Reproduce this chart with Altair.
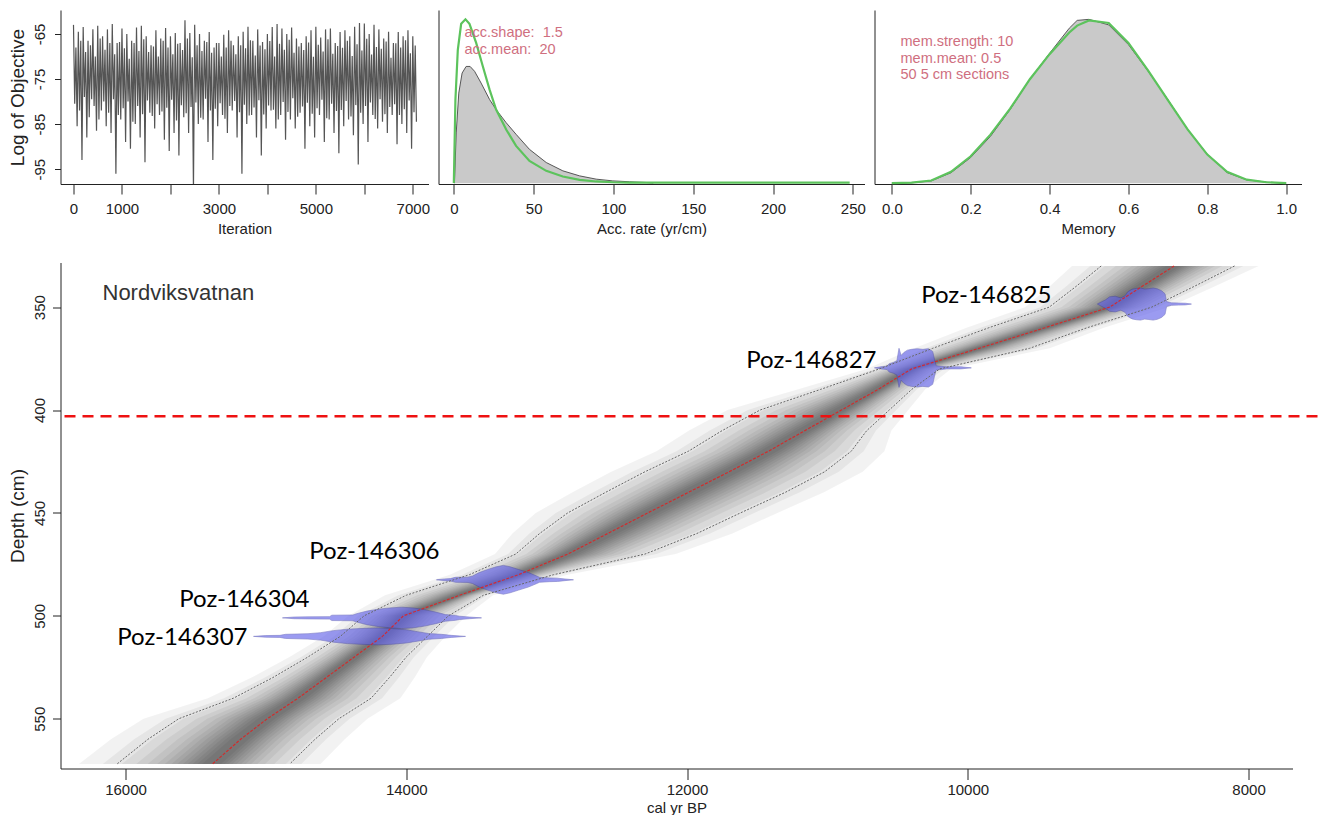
import altair as alt
import pandas as pd

FONT = "Liberation Sans"
INK = "#222222"

# ---------------- panel 1: MCMC trace ----------------
# extreme excursions (every 100 iterations) and the smaller wiggles in between
trace_peaks = [-63.0, -64.5, -63.5, -66.5, -64.0, -63.2, -65.5, -64.0, -62.8, -67.0,
               -63.8, -65.0, -66.5, -63.6, -63.2, -65.5, -67.5, -64.2, -66.0, -63.7,
               -65.5, -64.8, -67.0, -62.0, -64.8, -63.0, -65.0, -66.5, -64.6, -68.0,
               -67.0, -65.2, -64.2, -67.5, -65.5, -64.5, -63.4, -66.5, -64.0, -66.8,
               -65.0, -63.5, -62.8, -63.8, -65.0, -63.6, -66.0, -67.0, -65.5, -64.2,
               -63.4, -65.8, -64.0, -63.8, -67.0, -64.6, -64.2, -65.5, -63.4, -62.6,
               -62.7, -65.0, -63.0, -64.0, -66.0, -64.5, -67.0, -64.6, -65.5, -64.2,
               -65.5]
trace_troughs = [-85.5, -93.0, -88.0, -79.5, -86.5, -82.0, -85.5, -87.0, -96.0, -84.0,
                 -89.0, -90.5, -85.0, -88.0, -93.5, -82.5, -86.0, -83.0, -88.5, -91.0,
                 -87.0, -92.0, -83.5, -87.0, -99.5, -85.0, -84.0, -89.0, -93.0, -85.5,
                 -83.0, -87.0, -82.0, -88.0, -96.0, -85.0, -83.0, -88.0, -92.0, -86.0,
                 -82.0, -86.0, -83.0, -88.5, -84.0, -86.0, -82.5, -90.5, -85.5, -88.0,
                 -83.0, -89.0, -84.0, -87.0, -91.5, -85.5, -84.0, -87.5, -94.0, -85.0,
                 -89.0, -83.0, -86.0, -84.5, -87.0, -83.0, -89.5, -85.0, -87.0, -90.5,
                 -84.5]
trace_inner_peaks = [-68.0, -66.5, -69.0, -67.5, -70.0, -66.0, -68.5, -67.0, -69.5, -66.8,
                     -68.2, -70.5, -67.0, -68.8, -66.2, -69.0, -67.8, -70.0, -66.5, -68.0,
                     -69.5, -67.2, -68.6, -66.0, -70.2, -67.5, -68.8, -66.8, -69.2, -67.0,
                     -70.0, -68.0, -66.5, -69.5, -67.5, -68.2, -66.4, -69.8, -67.6, -68.4,
                     -66.6, -70.0, -67.2, -68.5, -66.3, -69.2, -67.8, -68.6, -66.9, -70.1,
                     -67.4, -68.9, -66.2, -69.4, -67.7, -68.1, -66.5, -69.9, -67.3, -68.7,
                     -66.1, -69.6, -67.9, -68.3, -66.7, -70.3, -67.1, -68.0, -66.4, -69.3,
                     -67.6]
trace_inner_troughs = [-80.5, -82.0, -79.0, -83.5, -81.0, -84.0, -80.0, -82.5, -79.5, -83.0,
                       -81.5, -80.0, -84.5, -81.0, -82.8, -79.8, -83.2, -80.6, -82.2, -81.4,
                       -79.6, -84.2, -80.8, -82.6, -81.2, -80.2, -83.6, -79.4, -82.0, -81.6,
                       -80.4, -83.8, -81.0, -79.9, -82.4, -80.7, -83.1, -81.3, -79.7, -82.9,
                       -80.9, -81.8, -84.0, -80.1, -82.3, -79.3, -83.4, -81.1, -80.3, -82.7,
                       -81.5, -79.6, -83.7, -80.5, -82.1, -81.9, -79.9, -83.3, -80.8, -82.5,
                       -81.0, -80.2, -83.9, -79.5, -82.8, -81.2, -80.6, -83.0, -81.7, -79.8,
                       -82.4]
trace_block = 100  # iterations per (peak, inner trough, inner peak, trough) block

# ---------------- panel 2: accumulation rate ----------------
acc_post_x = [0.4, 1.5, 3.1, 5.2, 7.7, 10.2, 13, 17.1, 22.4, 26.5, 32.8, 39, 47.4,
              57.9, 68.3, 78.8, 89.2, 99.6, 110, 120, 125]
acc_post_y = [0, 0.29, 0.52, 0.636, 0.674, 0.674, 0.646, 0.578, 0.483, 0.425, 0.349,
              0.282, 0.195, 0.119, 0.071, 0.042, 0.023, 0.013, 0.008, 0.004, 0.0]
acc_prior_x = [0, 1.0, 2.5, 4.6, 7.3, 9.8, 14, 18.2, 22.4, 26.5, 32.8, 39, 47.4, 57.9,
               68.3, 78.8, 89.2, 99.6, 110, 150, 200, 248]
acc_prior_y = [0, 0.48, 0.77, 0.92, 0.946, 0.92, 0.81, 0.674, 0.54, 0.425, 0.31, 0.215,
               0.128, 0.071, 0.038, 0.019, 0.0096, 0.005, 0.003, 0.003, 0.003, 0.003]
acc_notes = ["acc.shape:\u00a0 1.5", "acc.mean:\u00a0 20"]

# ---------------- panel 3: memory ----------------
mem_x = [0, 0.05, 0.1, 0.15, 0.2, 0.25, 0.3, 0.35, 0.4, 0.45, 0.47, 0.5, 0.55, 0.6,
         0.65, 0.7, 0.75, 0.8, 0.85, 0.9, 0.95, 1.0]
mem_post_y = [0, 0.002, 0.013, 0.06, 0.148, 0.27, 0.425, 0.6, 0.75, 0.895, 0.94, 0.946,
              0.914, 0.8, 0.646, 0.483, 0.31, 0.167, 0.061, 0.019, 0.006, 0]
mem_prior_y = [0, 0.003, 0.015, 0.065, 0.155, 0.28, 0.43, 0.6, 0.745, 0.87, 0.91, 0.94,
               0.925, 0.81, 0.65, 0.48, 0.31, 0.165, 0.065, 0.02, 0.005, 0]
mem_notes = ["mem.strength: 10", "mem.mean: 0.5", "50 5 cm sections"]

# ---------------- main: age-depth model ----------------
site_name = "Nordviksvatnan"
depth_nodes = [330, 340, 350, 360, 370, 380, 390, 400, 410, 420, 430, 440, 450, 460,
               470, 480, 490, 500, 510, 520, 530, 540, 550, 560, 572]
age_mid = [8530, 8760, 8990, 9450, 9920, 10400, 10640, 10900, 11160, 11420, 11700,
           11990, 12280, 12565, 12850, 13200, 13620, 14020, 14170, 14370, 14570, 14770,
           14990, 15180, 15380]
age_old = [9050, 9230, 9420, 9850, 10250, 10630, 11050, 11480, 11750, 11990, 12300,
           12580, 12850, 13050, 13220, 13550, 14000, 14300, 14470, 14700, 14950, 15230,
           15620, 15840, 16060]
age_young = [8100, 8390, 8690, 9150, 9560, 10200, 10400, 10560, 10720, 10830, 11020,
             11300, 11620, 11930, 12300, 12950, 13450, 13700, 13850, 14000, 14120,
             14250, 14480, 14650, 14830]
boundary_depth = 403

date_labels = ["Poz-146825", "Poz-146827", "Poz-146306", "Poz-146304", "Poz-146307"]
date_depths = [348.5, 379.5, 482.5, 501.0, 510.0]
date_ages = [
    [9077, 9050, 9020, 8990, 8950, 8910, 8880, 8860, 8830, 8800, 8770, 8740, 8710, 8680,
     8650, 8620, 8595, 8584, 8550, 8500, 8450, 8407],
    [10665, 10620, 10575, 10560, 10530, 10505, 10490, 10475, 10455, 10430, 10400, 10360,
     10320, 10280, 10250, 10237, 10225, 10150, 10050, 9975],
    [13785, 13730, 13685, 13650, 13560, 13528, 13480, 13420, 13360, 13308, 13260, 13200,
     13130, 13070, 13051, 12980, 12923, 12870, 12809],
    [14882, 14800, 14700, 14547, 14530, 14380, 14355, 14280, 14200, 14120, 14034, 13950,
     13870, 13790, 13721, 13650, 13621, 13550, 13464],
    [15088, 15000, 14900, 14860, 14700, 14611, 14520, 14420, 14300, 14198, 14100, 14000,
     13920, 13842, 13749, 13680, 13578],
]
date_halfheights = [
    [0, 1.0, 2.0, 3.5, 3.8, 3.0, 4.0, 6.0, 7.2, 7.6, 7.8, 7.3, 7.5, 7.8, 7.4, 6.5, 5.0,
     1.2, 0.6, 0.5, 0.4, 0],
    [0, 0.5, 0.8, 2.0, 2.6, 3.5, 9.5, 6.0, 7.5, 8.6, 9.0, 9.3, 9.0, 9.3, 8.0, 4.0, 1.0,
     0.5, 0.5, 0],
    [0, 0.4, 0.6, 1.2, 1.3, 1.8, 3.5, 5.0, 6.3, 7.0, 6.3, 5.0, 3.5, 1.8, 1.2, 0.9, 0.8,
     0.4, 0],
    [0, 0.4, 0.5, 0.6, 1.3, 1.4, 2.0, 3.3, 4.2, 4.8, 5.2, 4.8, 4.0, 2.8, 1.6, 1.2, 0.8,
     0.4, 0],
    [0, 0.4, 0.5, 1.0, 1.3, 1.8, 2.8, 3.5, 3.9, 4.1, 3.8, 3.2, 2.3, 1.4, 1.0, 0.5, 0],
]
label_ages = [9404, 10650, 13763, 14689, 15131]
label_depths = [344.8, 376.4, 469.2, 492.1, 511.0]

# ======================================================================
q = trace_block / 4
trace_rows = []
for i in range(len(trace_peaks)):
    b = i * trace_block
    trace_rows += [(b, trace_peaks[i]), (b + q, trace_inner_troughs[i]),
                   (b + 2 * q, trace_inner_peaks[i]), (b + 3 * q, trace_troughs[i])]
trace_df = pd.DataFrame(trace_rows, columns=["it", "val"])

common_axis = dict(labelFontSize=15, titleFontSize=15, labelColor=INK, titleColor=INK,
                   domainColor=INK, tickColor=INK, grid=False, labelFlush=False,
                   labelOverlap=False, titleFontWeight="normal", domainWidth=1,
                   tickWidth=1)
YTITLE_X = -43
YTITLE_SIZE = 19


def top_xaxis(title, values, fmt, expr=None):
    kw = dict(common_axis)
    kw.update(title=title, values=values, format=fmt, tickSize=10, labelPadding=7,
              labelBaseline="top", titleY=44, titleBaseline="middle")
    if expr:
        kw["labelExpr"] = expr
    return alt.Axis(**kw)


blank_y = alt.Axis(title=None, labels=False, ticks=False, domain=True, grid=False,
                   domainColor=INK)

p1_axis_y = dict(common_axis)
p1_axis_y.update(title="Log of Objective", values=[-95, -85, -75, -65],
                 labelExpr="'' + datum.value", tickSize=6, labelPadding=7,
                 labelAngle=270, labelAlign="center", labelBaseline="bottom",
                 titleAngle=270, titleX=YTITLE_X, titleY=87, titleAlign="center",
                 titleBaseline="middle", titleFontSize=YTITLE_SIZE)

p1 = alt.Chart(trace_df).mark_line(color="#555555", strokeWidth=1.2, clip=True).encode(
    x=alt.X("it:Q", scale=alt.Scale(domain=[-268, 7324], nice=False, zero=False),
            axis=top_xaxis("Iteration", list(range(0, 8000, 1000)), "d",
                           "datum.value == 2000 || datum.value == 4000 || datum.value == 6000 ? '' : datum.label")),
    y=alt.Y("val:Q", scale=alt.Scale(domain=[-98.3, -59.7], nice=False, zero=False),
            axis=alt.Axis(**p1_axis_y)),
).properties(width=368, height=174)

acc_post = pd.DataFrame({"x": acc_post_x, "y": acc_post_y})
acc_prior = pd.DataFrame({"x": acc_prior_x, "y": acc_prior_y})
ax2 = alt.X("x:Q", scale=alt.Scale(domain=[-9.6, 257.3], nice=False, zero=False),
            axis=top_xaxis("Acc. rate (yr/cm)", [0, 50, 100, 150, 200, 250], "d"))
ay2 = alt.Y("y:Q", scale=alt.Scale(domain=[-0.005, 1], nice=False, zero=False), axis=blank_y)
p2 = alt.layer(
    alt.Chart(acc_post).mark_area(color="#c9c9c9").encode(x=ax2, y=ay2),
    alt.Chart(acc_post).mark_line(color="#474747", strokeWidth=0.9).encode(x=ax2, y=ay2),
    alt.Chart(acc_prior).mark_line(color="#5cc35c", strokeWidth=2.2).encode(x=ax2, y=ay2),
    alt.Chart(pd.DataFrame({"t": ["\n".join(acc_notes)]})).mark_text(
        align="left", baseline="top", fontSize=14.5, color="#cf6f7f", lineBreak="\n",
        lineHeight=17).encode(x=alt.value(26), y=alt.value(16), text="t:N"),
).properties(width=426, height=174)

mem_df = pd.DataFrame({"x": mem_x, "post": mem_post_y, "prior": mem_prior_y})
ax3 = alt.X("x:Q", scale=alt.Scale(domain=[-0.0439, 1.0388], nice=False, zero=False),
            axis=top_xaxis("Memory", [0, 0.2, 0.4, 0.6, 0.8, 1.0], ".1f"))
sc3 = alt.Scale(domain=[-0.005, 1], nice=False, zero=False)
p3 = alt.layer(
    alt.Chart(mem_df).mark_area(color="#c9c9c9").encode(x=ax3, y=alt.Y("post:Q", scale=sc3, axis=blank_y)),
    alt.Chart(mem_df).mark_line(color="#474747", strokeWidth=0.9).encode(x=ax3, y=alt.Y("post:Q", scale=sc3, axis=blank_y)),
    alt.Chart(mem_df).mark_line(color="#5cc35c", strokeWidth=2.2).encode(x=ax3, y=alt.Y("prior:Q", scale=sc3, axis=blank_y)),
    alt.Chart(pd.DataFrame({"t": ["\n".join(mem_notes)]})).mark_text(
        align="left", baseline="top", fontSize=14.5, color="#cf6f7f", lineBreak="\n",
        lineHeight=16.5).encode(x=alt.value(26), y=alt.value(25), text="t:N"),
).properties(width=427, height=174)

top_row = alt.hconcat(p1, p2, p3, spacing=10, bounds="flush")

# ---------------- main panel ----------------
xs = alt.Scale(domain=[7687, 16463], reverse=True, nice=False, zero=False)
ys = alt.Scale(domain=[328.3, 574.2], reverse=True, nice=False, zero=False)
main_xaxis = alt.Axis(**common_axis, title="cal yr BP", values=[16000, 14000, 12000, 10000, 8000],
                      format="d", tickSize=11, labelPadding=3, labelBaseline="top",
                      titleY=38.5, titleBaseline="middle")
main_y_kw = dict(common_axis)
main_y_kw.update(title="Depth (cm)", values=[350, 400, 450, 500, 550],
                 tickSize=8, labelPadding=5, labelAngle=270, labelAlign="center",
                 labelBaseline="bottom", titleAngle=270, titleX=YTITLE_X, titleY=253,
                 titleAlign="center", titleBaseline="middle", titleFontSize=YTITLE_SIZE)
main_yaxis = alt.Axis(**main_y_kw)


def MX(f):
    return alt.X(f, type="quantitative", scale=xs, axis=main_xaxis)


def MY(f):
    return alt.Y(f, type="quantitative", scale=ys, axis=main_yaxis)


band = pd.DataFrame({"depth": depth_nodes, "mid": age_mid, "old": age_old, "young": age_young})
layers = []
# nested translucent layers give the grey probability shading of the model
shade_widths = [1.4, 1.15, 0.95, 0.8, 0.68, 0.58, 0.5, 0.43, 0.37, 0.31, 0.26, 0.21, 0.16, 0.11]
for f in shade_widths:
    d = band.assign(lft=band["mid"] + f * (band["old"] - band["mid"]),
                    rgt=band["mid"] - f * (band["mid"] - band["young"]))
    layers.append(alt.Chart(d).mark_area(orient="horizontal", color="black", opacity=0.052)
                  .encode(y=MY("depth"), x=MX("lft"), x2="rgt"))

rows = []
for lab, dep, ages, hs in zip(date_labels, date_depths, date_ages, date_halfheights):
    for a, h in zip(ages, hs):
        rows.append({"lab": lab, "age": a, "lo": dep - h, "hi": dep + h})
dist_df = pd.DataFrame(rows)
layers.append(alt.Chart(dist_df).mark_area(color="#5f5fea", opacity=0.62, stroke="#3636a6",
                                           strokeWidth=0.7, strokeOpacity=0.9)
              .encode(x=MX("age"), y=MY("lo"), y2="hi", detail="lab:N"))

for col in ["old", "young"]:
    layers.append(alt.Chart(band).mark_line(color="#666666", strokeWidth=1, strokeDash=[2, 1.5])
                  .encode(x=MX(col), y=MY("depth"), order="depth:Q"))
layers.append(alt.Chart(band).mark_line(color="#e02020", strokeWidth=1.2, strokeDash=[3, 1.5], opacity=0.85)
              .encode(x=MX("mid"), y=MY("depth"), order="depth:Q"))

layers.append(alt.Chart(pd.DataFrame({"d": [boundary_depth]})).mark_rule(
    color="#ee1111", strokeWidth=2.6, strokeDash=[11, 7])
    .encode(y=MY("d"), x=alt.value(4), x2=alt.value(1261)))

lab_df = pd.DataFrame({"lab": date_labels, "age": label_ages, "depth": label_depths})
layers.append(alt.Chart(lab_df).mark_text(align="right", baseline="middle", font="Lato",
                                          fontSize=24, color="#000000")
              .encode(x=MX("age"), y=MY("depth"), text="lab:N"))
layers.append(alt.Chart(pd.DataFrame({"t": [site_name]})).mark_text(
    align="left", baseline="middle", fontSize=22, color="#333333")
    .encode(x=alt.value(42), y=alt.value(30), text="t:N"))

main = alt.layer(*layers).properties(width=1232, height=506)

chart = alt.vconcat(top_row, main, spacing=26.5, bounds="full").properties(
    padding={"left": 0.5, "top": 2, "right": 0, "bottom": 0}
).configure(font=FONT).configure_view(stroke=None)

chart.save("out.html", embed_options={"renderer": "svg", "actions": False})
